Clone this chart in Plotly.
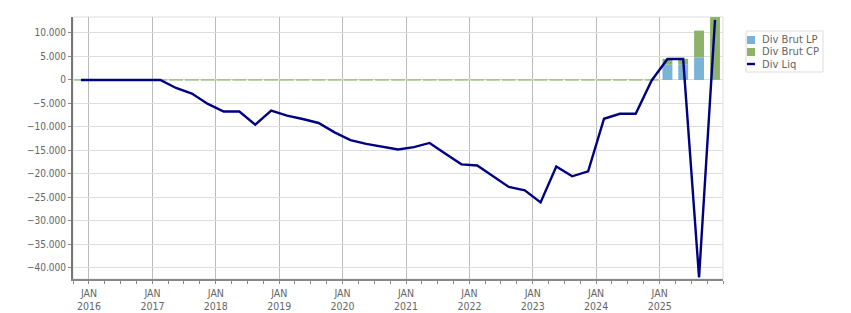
import pandas as pd
import plotly.graph_objects as go

# Quarterly periods (2015Q4 .. 2025Q4)
quarters = [str(p) for p in pd.period_range("2015Q4", "2025Q4", freq="Q")]

div_brut_lp = [0] * 37 + [3250, 3250, 4800, 200]
div_brut_cp = [0] * 37 + [1250, 1250, 5700, 13200]
div_liq = [
    0,
    0, 0, 0, 0,
    0, -1700, -2900, -5100,
    -6700, -6700, -9500, -6500,
    -7600, -8300, -9150, -11150,
    -12800, -13600, -14200, -14800,
    -14300, -13400, -15700, -17950,
    -18200, -20500, -22750, -23500,
    -26050, -18400, -20500, -19450,
    -8250, -7200, -7200, -100,
    4450, 4450, -42000, 12800,
]

series_names = ["Div Brut LP", "Div Brut CP", "Div Liq"]

years = list(range(2016, 2026))
tick_text = [f"JAN<br>{y}" for y in years]
y_ticks = list(range(-40000, 10001, 5000))

# quarter mid-points as dates
def qmid(q):
    p = pd.Period(q, freq="Q")
    return p.start_time + (p.end_time - p.start_time) / 2

xdates = [qmid(q) for q in quarters]
tick_vals = [pd.Timestamp(f"{y}-01-01") for y in years]

BLUE = "#79B3D7"
GREEN = "#8CB369"
NAVY = "#000080"
FONT = "DejaVu Sans Condensed, DejaVu Sans"
LEGFONT = "DejaVu Sans"
TXT = "#666666"

bar_w = 57 * 86400000

fig = go.Figure()
fig.add_trace(go.Bar(x=xdates, y=div_brut_lp, name=series_names[0], showlegend=False,
                     marker=dict(color=BLUE, line=dict(width=0)), width=bar_w))
fig.add_trace(go.Bar(x=xdates, y=div_brut_cp, name=series_names[1], showlegend=False,
                     marker=dict(color=GREEN, line=dict(width=0)), width=bar_w))
# zero-height CP bars appear as thin green strokes
zx = [d for d, v in zip(xdates, div_brut_cp) if v == 0]
zy = [v for v in div_brut_cp if v == 0]
fig.add_trace(go.Scatter(x=zx, y=zy, mode="markers", showlegend=False,
                         hoverinfo="skip",
                         marker=dict(symbol="line-ew", size=10,
                                     line=dict(color=GREEN, width=1.2))))
fig.add_trace(go.Scatter(x=xdates, y=div_liq, name=series_names[2], mode="lines",
                         showlegend=False, line=dict(color=NAVY, width=2.4)))

W, H = 851, 313
L, R, T, B = 73, W - 128, 17, H - 34

def to_px(xp):
    return (xp - L) / (R - L)

def to_py(yp):
    return (B - yp) / (B - T)

shapes = [dict(type="rect", xref="paper", yref="paper", x0=0, x1=1, y0=0, y1=1,
               line=dict(color="#dddddd", width=1), layer="below")]
annotations = []
legend_items = [(series_names[0], "square", BLUE),
                (series_names[1], "square", GREEN),
                (series_names[2], "line", NAVY)]

# compact legend box
shapes.append(dict(type="rect", xref="paper", yref="paper",
                   x0=to_px(746), x1=to_px(823), y0=to_py(31), y1=to_py(72),
                   line=dict(color="#dddddd", width=1), fillcolor="white"))
for i, (name, kind, col) in enumerate(legend_items):
    yc = 40 + 12 * i
    if kind == "square":
        shapes.append(dict(type="rect", xref="paper", yref="paper",
                           x0=to_px(747), x1=to_px(755), y0=to_py(yc + 4), y1=to_py(yc - 4),
                           line=dict(width=0), fillcolor=col))
    else:
        shapes.append(dict(type="line", xref="paper", yref="paper",
                           x0=to_px(747), x1=to_px(755), y0=to_py(yc), y1=to_py(yc),
                           line=dict(color=col, width=2.4)))
    annotations.append(dict(xref="paper", yref="paper", x=to_px(760), y=to_py(yc),
                            xanchor="left", yanchor="middle", showarrow=False,
                            text=name, font=dict(family=LEGFONT, size=10, color=TXT)))

fig.update_layout(
    template="none",
    width=W, height=H,
    barmode="relative",
    separators=",.",
    paper_bgcolor="white", plot_bgcolor="white",
    margin=dict(l=L, r=W - R, t=T, b=H - B, autoexpand=False),
    font=dict(family=FONT, size=9, color=TXT),
    showlegend=False,
    shapes=shapes, annotations=annotations,
)

fig.update_xaxes(
    type="date", automargin=False,
    range=[pd.Timestamp("2015-10-01"), pd.Timestamp("2026-01-01")],
    tickvals=tick_vals, ticktext=tick_text,
    showgrid=True, gridcolor="#bbbbbb", gridwidth=1,
    showline=True, linecolor="#888888", linewidth=2,
    ticks="outside", ticklen=3, tickcolor="#888888",
    minor=dict(dtick="M3", tick0="2016-01-01", ticks="outside", ticklen=3,
               tickcolor="#888888", showgrid=False),
    tickfont=dict(family=FONT, size=10.5, color=TXT),
    zeroline=False,
)
fig.update_yaxes(
    automargin=False,
    range=[-42350, 13400],
    tickvals=y_ticks, tickformat=",d",
    showgrid=True, gridcolor="#dddddd", gridwidth=1,
    showline=True, linecolor="#777777", linewidth=2,
    ticks="outside", ticklen=3, tickcolor="#888888",
    tickfont=dict(family=FONT, size=10, color=TXT),
    zeroline=False,
)

fig.write_html("out.html")
